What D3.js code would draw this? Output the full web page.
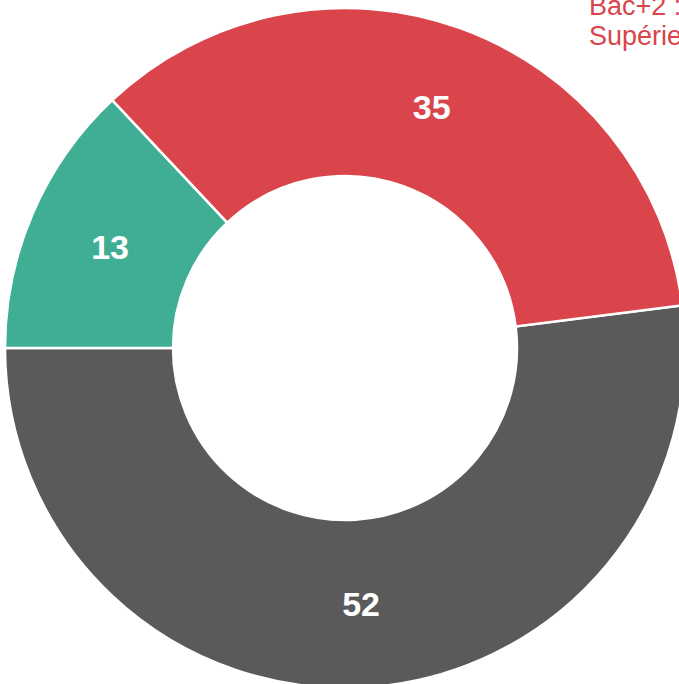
<!DOCTYPE html>
<meta charset="utf-8">
<style>
body { margin: 0; background: #fff; }
.label {
  font: bold 34px "Liberation Sans", Arial, sans-serif;
  fill: #fff;
  text-anchor: middle;
}
.legend {
  font: 27px "Liberation Sans", Arial, sans-serif;
}
</style>
<svg width="679" height="684"></svg>
<script src="https://d3js.org/d3.v7.min.js"></script>
<script>
// slices, in clockwise drawing order
var categories = ["Supérieur", "Bac ou moins", "Bac+2"];
var values = [52, 13, 35];
var colors = ["#5a5a5a", "#3fae94", "#d9454b"];
var legendLines = ["Bac+2 :", "Supérieur"];

var svg = d3.select("svg"),
    cx = 345, cy = 348,
    outer = 340, inner = 172;

var total = d3.sum(values);
// first slice ends at 9 o'clock
var a0 = 1.5 * Math.PI - 2 * Math.PI * values[0] / total;

var pie = d3.pie().sort(null)
    .startAngle(a0)
    .endAngle(a0 + 2 * Math.PI);

var arc = d3.arc().innerRadius(inner).outerRadius(outer);

var g = svg.append("g").attr("transform", "translate(" + cx + "," + cy + ")");

var arcs = pie(values);

g.selectAll("path")
    .data(arcs)
  .enter().append("path")
    .attr("d", arc)
    .attr("fill", function(d, i) { return colors[i]; })
    .attr("stroke", "#fff")
    .attr("stroke-width", 2.5);

g.selectAll(".label")
    .data(arcs)
  .enter().append("text")
    .attr("class", "label")
    .attr("transform", function(d) { return "translate(" + arc.centroid(d) + ")"; })
    .attr("dy", "0.36em")
    .text(function(d) { return d.data; });

// legend text, cut by the right edge
svg.append("g")
    .selectAll("text")
    .data(legendLines)
  .enter().append("text")
    .attr("class", "legend")
    .attr("x", 589)
    .attr("y", function(d, i) { return 15 + i * 30; })
    .attr("fill", colors[2])
    .text(function(d) { return d; });
</script>
